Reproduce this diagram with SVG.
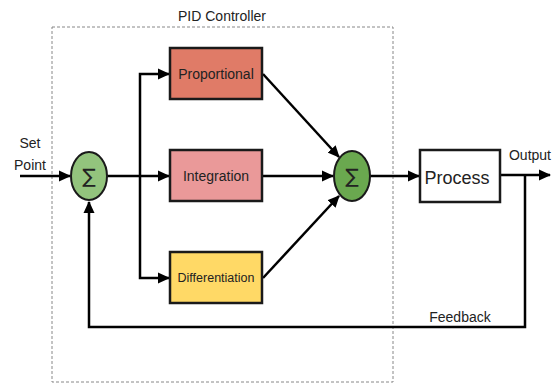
<svg xmlns="http://www.w3.org/2000/svg" width="560" height="383" viewBox="0 0 560 383">
<style>
text{font-family:"Liberation Sans",Arial,sans-serif;fill:#222;}
.lbl{font-size:14px;}
.box{stroke:#1a1a1a;stroke-width:2.5;}
.sum{stroke:#1a1a1a;stroke-width:2;}
.wire{fill:none;stroke:#000;stroke-width:2.5;}
.sig{font-size:20px;font-family:"DejaVu Sans",sans-serif;}
</style>
<defs>
<marker id="ah" markerUnits="userSpaceOnUse" markerWidth="12" markerHeight="12" viewBox="0 0 12 12" refX="11" refY="6" orient="auto">
<path d="M0,0.5 L12,6 L0,11.5 Z" fill="#000"/>
</marker>
</defs>
<rect x="52" y="27" width="341" height="355" fill="none" stroke="#888" stroke-width="1" stroke-dasharray="3,2"/>
<text class="lbl" x="222" y="21" text-anchor="middle">PID Controller</text>
<g id="connectors">
<path class="wire" d="M20,176 H70" marker-end="url(#ah)"/>
<path class="wire" d="M107,176 H169" marker-end="url(#ah)"/>
<path class="wire" d="M140,176 V74 H169" marker-end="url(#ah)"/>
<path class="wire" d="M140,176 V278 H169" marker-end="url(#ah)"/>
<path class="wire" d="M263,74 L339,157" marker-end="url(#ah)"/>
<path class="wire" d="M263,176 H333" marker-end="url(#ah)"/>
<path class="wire" d="M263,278 L339,196" marker-end="url(#ah)"/>
<path class="wire" d="M370,176 H419" marker-end="url(#ah)"/>
<path class="wire" d="M501,175 H550" marker-end="url(#ah)"/>
<path class="wire" d="M525,175 V327 H89 V202" marker-end="url(#ah)"/>
</g>
<g id="setpoint">
<text class="lbl" x="30" y="148" text-anchor="middle">Set</text>
<text class="lbl" x="30" y="170" text-anchor="middle">Point</text>
</g>
<g id="sum1">
<ellipse class="sum" cx="89" cy="176" rx="18" ry="24" fill="#93c47d"/>
<text class="sig" x="89" y="183" text-anchor="middle">∑</text>
</g>
<g id="proportional">
<rect class="box" x="170" y="48" width="92" height="51" fill="#e07b67"/>
<text class="lbl" x="216" y="79" text-anchor="middle">Proportional</text>
</g>
<g id="integration">
<rect class="box" x="170" y="150" width="92" height="51" fill="#ea9999"/>
<text class="lbl" x="216" y="181" text-anchor="middle">Integration</text>
</g>
<g id="differentiation">
<rect class="box" x="170" y="252" width="92" height="51" fill="#ffd966"/>
<text x="216" y="282" text-anchor="middle" font-size="12.5">Differentiation</text>
</g>
<g id="sum2">
<ellipse class="sum" cx="352" cy="176" rx="18" ry="25" fill="#6aa84f"/>
<text class="sig" x="352" y="183" text-anchor="middle">∑</text>
</g>
<g id="process">
<rect class="box" x="420" y="150" width="80" height="52" fill="#fff"/>
<text x="457" y="184" text-anchor="middle" font-size="18">Process</text>
</g>
<text class="lbl" x="530" y="160" text-anchor="middle">Output</text>
<text class="lbl" x="460" y="322" text-anchor="middle">Feedback</text>
</svg>
